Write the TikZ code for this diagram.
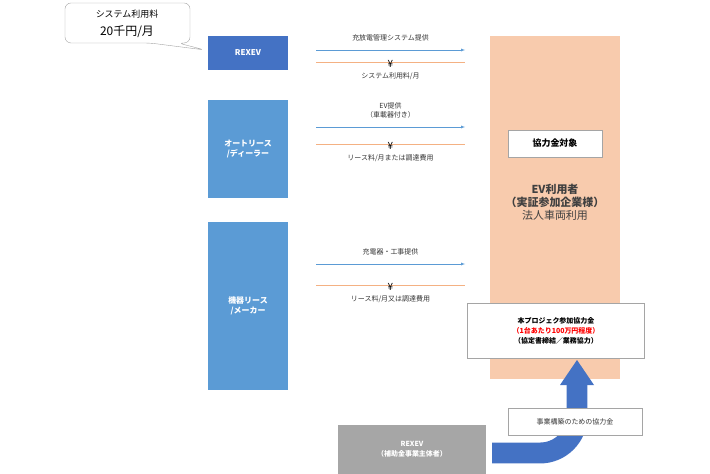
\documentclass[tikz,border=0pt]{standalone}
\usepackage{fontspec}
\setmainfont{Noto Sans CJK JP}
\usetikzlibrary{positioning, shapes, calc, arrows}
\definecolor{darkblue}{HTML}{4472C4}
\definecolor{lightblue}{HTML}{5B9BD5}
\definecolor{pastelorange}{HTML}{F8CBAD}
\definecolor{linegray}{HTML}{A5A5A5}
\definecolor{boxgray}{HTML}{A6A6A6}
\definecolor{flowblue}{HTML}{5B9BD5}
\definecolor{floworange}{HTML}{F4B183}

\begin{document}
\begin{tikzpicture}[x=1bp, y=-1bp,
	party/.style={draw=none, fill=lightblue, text=white, font=\bfseries\fontsize{8}{10}\selectfont, align=center, inner sep=0pt},
	whitebox/.style={draw=linegray, fill=white, align=center, inner sep=0pt},
	lbl/.style={font=\fontsize{7}{9}\selectfont, align=center, text=black!80},
	yen/.style={font=\fontsize{10}{10}\selectfont, text=black, inner sep=0.5pt}]
	\useasboundingbox (0,0) rectangle (710,474);

	% callout
	\draw[linegray, fill=white, rounded corners=6] (65,3) -- (190,3) -- (190,43) -- (178,43) -- (205,50) -- (150,43) -- (65,43) -- cycle;
	\node[font=\fontsize{9}{10}\selectfont] (fee) at (127,14) {システム利用料};
	\node[font=\fontsize{12}{13}\selectfont, below=0pt of fee] (feeval) {20千円/月};

	% parties on the left
	\node[party, fill=darkblue, minimum width=80, minimum height=34] (rexev) at (248,53) {REXEV};
	\node[party, minimum width=80, minimum height=98] (auto) at (248,149) {オートリース\\/ディーラー};
	\node[party, minimum width=80, minimum height=168] (maker) at (248,306) {機器リース\\/メーカー};

	% user
	\node[fill=pastelorange, minimum width=130, minimum height=345, inner sep=0pt] (user) at (555,207.5) {};
	\node[whitebox, minimum width=94, minimum height=27, font=\bfseries\fontsize{9}{11}\selectfont] (target) at (555,143.5) {協力金対象};
	\node[align=center, font=\fontsize{11}{13}\selectfont, text=black!75] (euser) at (555,202) {\textbf{EV利用者}\\\textbf{（実証参加企業様）}\\法人車両利用};

	% flows
	\foreach \name/\yb/\yo/\top/\bot in {sys/50/62/{充放電管理システム提供}/{システム利用料/月},
		ev/127/144/{EV提供\\（車載器付き）}/{リース料/月または調達費用},
		chg/264/285/{充電器・工事提供}/{リース料/月又は調達費用}} {
		\coordinate (\name a) at (316,\yb);
		\coordinate (\name b) at (465,\yb);
		\coordinate (\name c) at (316,\yo);
		\coordinate (\name d) at (465,\yo);
		\draw[flowblue, -latex] (\name a) -- node[above=5pt, lbl] {\top} (\name b);
		\draw[floworange] (\name c) -- node[yen, above=-6pt] {¥} node[below=7pt, lbl] {\bot} (\name d);
	}

	% subsidy arrow
	\node[party, fill=boxgray, minimum width=148, minimum height=49, font=\bfseries\fontsize{7}{10}\selectfont] (sponsor) at (412,449.5) {REXEV\\（補助金事業主体者）};
	\coordinate (start) at (492,453);
	\coordinate (tip) at (577,360);
	\draw[darkblue, line width=21] (start) -- (540,453) arc[start angle=90, end angle=0, radius=37] -- (577,384);
	\fill[darkblue] (560,385) -- (594,385) -- (tip) -- cycle;
	\node[whitebox, minimum width=134, minimum height=27, lbl] (grant) at (575,421.5) {事業構築のための協力金};

	\node[whitebox, minimum width=178, minimum height=55, font=\bfseries\fontsize{7}{10}\selectfont] (coop) at (556,330.5)
		{本プロジェク参加協力金\\{\color{red}（1台あたり100万円程度）}\\（協定書締結／業務協力）};
\end{tikzpicture}
\end{document}
